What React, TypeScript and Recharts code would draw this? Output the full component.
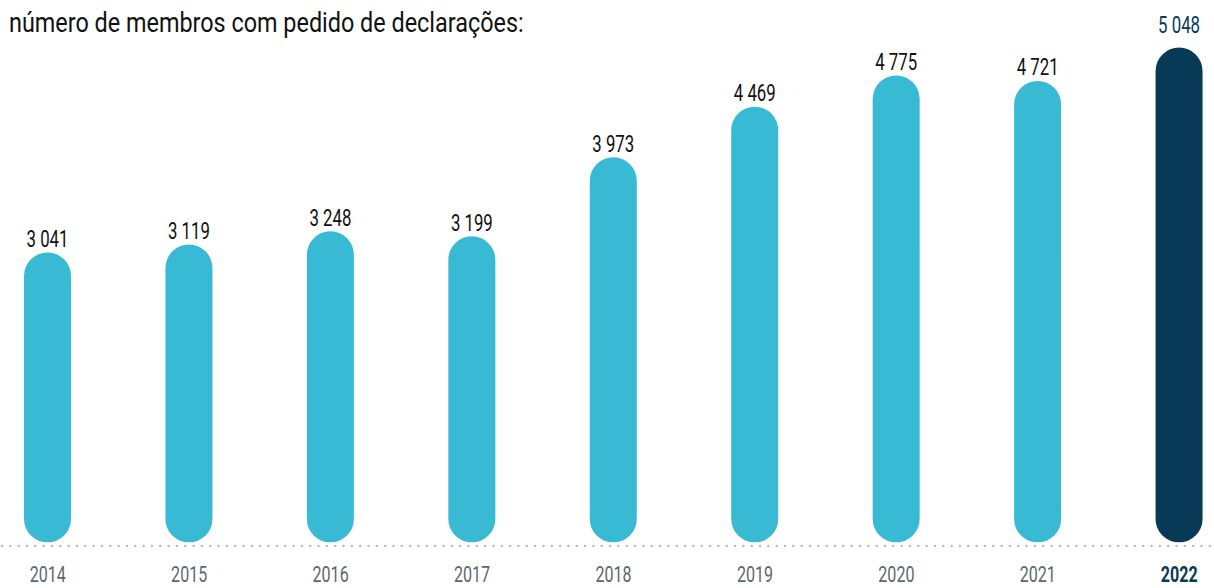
import React from 'react';
import { BarChart, Bar, XAxis, YAxis, Cell, LabelList } from 'recharts';

const years = ['2014', '2015', '2016', '2017', '2018', '2019', '2020', '2021', '2022'];
const members = [3041, 3119, 3248, 3199, 3973, 4469, 4775, 4721, 5048];
const valueLabels = ['3 041', '3 119', '3 248', '3 199', '3 973', '4 469', '4 775', '4 721', '5 048'];
const titleText = 'número de membros com pedido de declarações:';

const data = years.map((y, i) => ({ year: y, value: members[i], label: valueLabels[i] }));

const FONT = 'Roboto, "Noto Sans", sans-serif';
const LIGHT = '#38b9d4';
const DARK = '#083a57';
const last = years.length - 1;
const SX = 0.73;

const ValueLabel = (props: any) => {
  const { x, y, width, index } = props;
  const cx = x + width / 2;
  const isLast = index === last;
  return (
    <text
      transform={`translate(${cx},${y - (isLast ? 15 : 5.5)}) scale(${SX},1)`}
      x={0}
      y={0}
      textAnchor="middle"
      fontFamily={FONT}
      fontSize={23}
      fill={isLast ? DARK : '#111111'}
    >
      {valueLabels[index]}
    </text>
  );
};

const YearTick = (props: any) => {
  const { x, y, payload, index } = props;
  const isLast = index === last;
  return (
    <text
      transform={`translate(${x},${y + 31}) scale(${SX},1)`}
      x={0}
      y={0}
      textAnchor="middle"
      fontFamily={FONT}
      fontSize={22}
      fontWeight={isLast ? 700 : 400}
      fill={isLast ? DARK : '#5c6870'}
    >
      {payload.value}
    </text>
  );
};

export default function App() {
  return (
    <div
      style={{
        position: 'absolute',
        left: 0,
        top: 0,
        width: 1214,
        height: 588,
        overflow: 'hidden',
        background: '#ffffff',
      }}
    >
      <svg
        width={1214}
        height={50}
        style={{ position: 'absolute', left: 0, top: 0 }}
      >
        <text
          transform="translate(9,32) scale(0.867,1)"
          x={0}
          y={0}
          fontFamily={FONT}
          fontSize={27}
          fill="#111111"
        >
          {titleText}
        </text>
      </svg>
      <div style={{ position: 'absolute', left: -23, top: 0 }}>
        <BarChart
          width={1273}
          height={588}
          data={data}
          margin={{ top: 32, right: 0, left: 0, bottom: 0 }}
          barCategoryGap={0}
        >
          <YAxis hide type="number" domain={[200, 5200]} allowDataOverflow />
          <XAxis
            dataKey="year"
            height={45.5}
            tickLine={false}
            interval={0}
            axisLine={{
              stroke: '#b3bfc8',
              strokeWidth: 2.5,
              strokeDasharray: '0 8.33',
              strokeLinecap: 'round',
              transform: 'translate(0,3.5)',
            }}
            tick={<YearTick />}
          />
          <Bar
            dataKey="value"
            barSize={47}
            radius={[23.5, 23.5, 23.5, 23.5]}
            isAnimationActive={false}
          >
            {data.map((d, i) => (
              <Cell key={d.year} fill={i === last ? DARK : LIGHT} />
            ))}
            <LabelList dataKey="label" content={<ValueLabel />} />
          </Bar>
        </BarChart>
      </div>
    </div>
  );
}
